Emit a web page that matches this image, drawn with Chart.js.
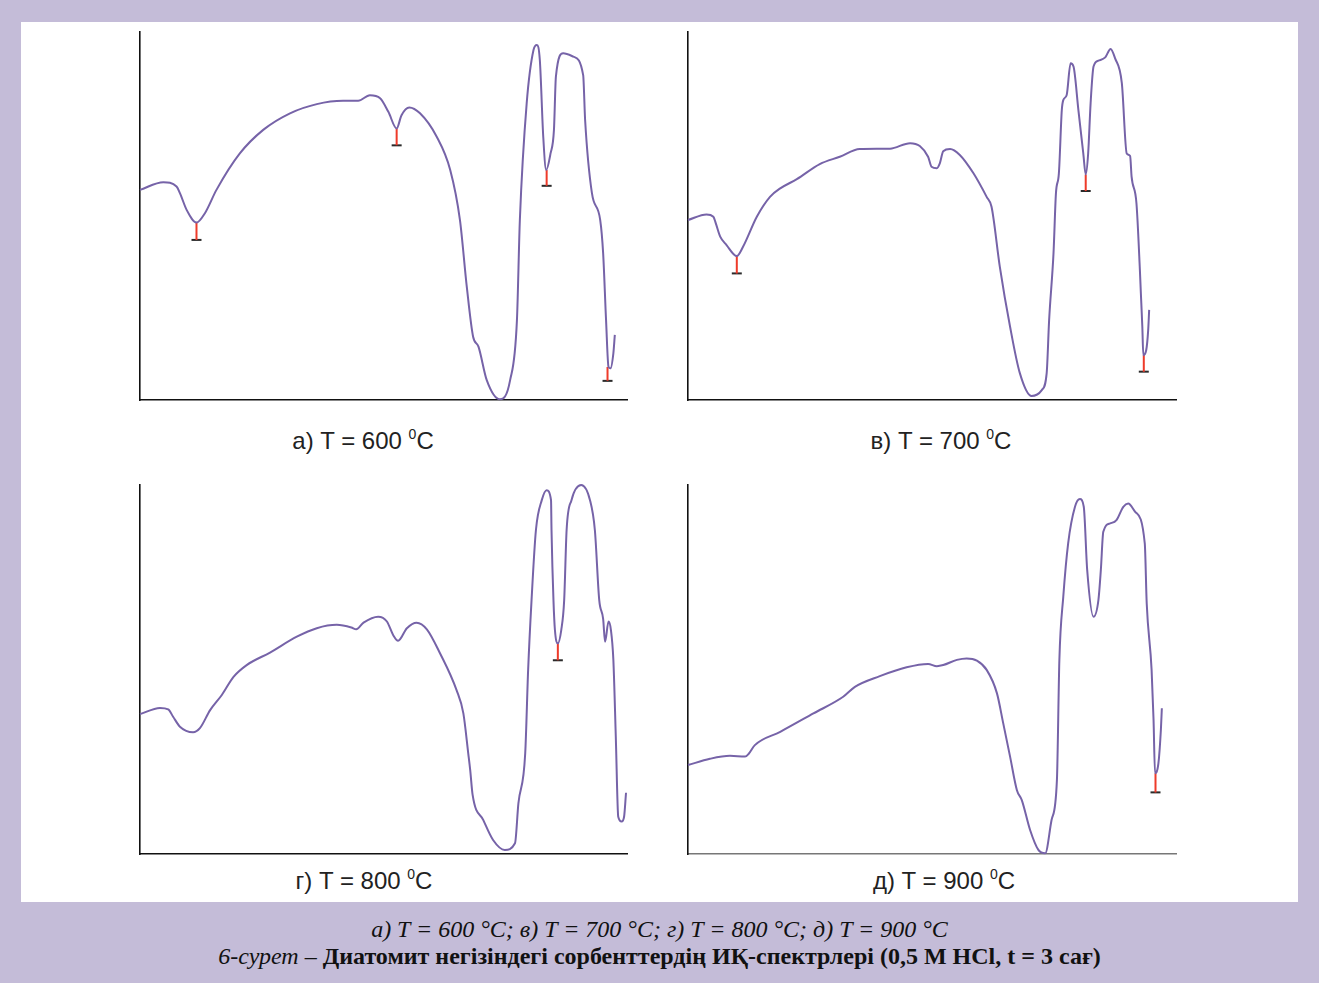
<!DOCTYPE html>
<html>
<head>
<meta charset="utf-8">
<script src="https://cdn.jsdelivr.net/npm/chart.js@4.4.1/dist/chart.umd.min.js"></script>
<style>
  html, body { margin: 0; padding: 0; }
  body { width: 1319px; height: 983px; background: #c4bcd8; position: relative; overflow: hidden; }
  #sheet { position: absolute; left: 21px; top: 22px; width: 1277px; height: 880px; background: #fff; }
  .plot { position: absolute; }
  .label { position: absolute; width: 300px; text-align: center; font-family: 'Liberation Sans', Arial, sans-serif; font-size: 24px; line-height: 28px; color: #222; }
  .label sup { font-size: 14px; vertical-align: 10px; line-height: 0; }
  .caption { position: absolute; left: 0; width: 1319px; text-align: center; font-family: 'Liberation Serif', 'Times New Roman', serif; font-size: 24px; line-height: 27px; color: #111; }
</style>
</head>
<body>
<div id="sheet"></div>
<div class="plot" id="boxA"><canvas id="specA"></canvas></div>
<div class="plot" id="boxB"><canvas id="specB"></canvas></div>
<div class="plot" id="boxC"><canvas id="specC"></canvas></div>
<div class="plot" id="boxD"><canvas id="specD"></canvas></div>
<div class="caption" style="top:916px"><i>а) T = 600 °C; в) T = 700 °C; г) T = 800 °C; д) T = 900 °C</i></div>
<div class="caption" style="top:943px"><i>6-сурет</i> – <b>Диатомит негізіндегі сорбенттердің ИҚ-спектрлері (0,5 M HCl, t = 3 сағ)</b></div>
<script>
// IR spectra on a relative 0–100 frame: position along the axis / transmittance
// а) 600 °C
const posA = [0, 4.8, 7.5, 8.2, 9.6, 11.6, 13.3, 15.7, 20.5, 25.3, 30.8, 36.3, 41.7, 44.8, 47.2, 49.3, 51.0, 52.7, 53.7, 55.3, 57.5, 60.9, 63.7, 65.7, 67.1, 68.4, 69.5, 71.2, 73.9, 76.0, 77.4, 78.0, 79.4, 80.8, 81.5, 82.1, 82.8, 83.4, 84.3, 85.0, 85.4, 86.9, 89.0, 91.0, 91.4, 92.8, 94.5, 95.1, 95.7, 96.2, 96.6, 97.2, 97.5];
const valA = [57.1, 59.2, 58.0, 56.2, 51.6, 48.2, 50.7, 57.1, 67.0, 73.4, 77.9, 80.4, 81.3, 81.3, 82.8, 82.0, 78.3, 73.8, 77.4, 79.5, 77.9, 71.6, 62.5, 48.9, 30.8, 17.2, 14.5, 5.4, 0.2, 5.4, 21.7, 48.9, 80.6, 95.1, 96.5, 92.4, 71.6, 62.5, 67.0, 73.4, 87.9, 94.2, 93.3, 88.3, 76.1, 56.2, 48.9, 39.9, 21.7, 9.0, 8.6, 12.7, 17.7];
const bandPosA = [11.6, 52.7, 83.5, 96.0];
const bandMinA = [48.2, 73.8, 62.5, 9.0];
const bandCapA = [43.5, 69.2, 58.2, 5.2];

// в) 700 °C
const posB = [0, 3.8, 5.2, 5.7, 6.6, 7.9, 10.0, 11.3, 14.1, 16.8, 18.9, 22.3, 27.0, 31.1, 35.2, 41.4, 45.5, 47.5, 49.2, 49.9, 51.0, 51.6, 52.3, 53.7, 55.7, 58.5, 61.2, 62.2, 63.9, 66.0, 68.0, 70.4, 72.5, 73.5, 74.0, 74.9, 75.4, 76.0, 76.6, 76.9, 77.6, 78.4, 79.0, 80.0, 81.0, 81.5, 82.0, 82.5, 83.1, 84.1, 85.5, 86.6, 87.5, 88.9, 89.9, 90.6, 90.9, 91.9, 92.6, 92.8, 93.1, 93.3, 93.9, 94.3, 94.5];
const valB = [48.9, 50.4, 49.8, 48.0, 44.4, 42.1, 39.1, 41.7, 49.8, 55.2, 57.5, 60.0, 64.1, 66.1, 68.2, 68.3, 69.8, 69.0, 66.1, 63.4, 63.0, 64.3, 67.6, 68.2, 66.6, 61.6, 55.2, 52.5, 36.2, 19.9, 7.3, 1.1, 2.7, 7.3, 21.7, 39.9, 56.2, 61.6, 78.8, 81.5, 82.9, 91.5, 90.6, 78.8, 67.0, 61.3, 67.0, 80.6, 90.6, 92.2, 93.1, 95.4, 92.9, 86.1, 67.0, 66.3, 60.7, 53.4, 35.3, 29.0, 19.9, 12.2, 13.6, 19.0, 24.5];
const bandPosB = [10.0, 81.5, 93.4];
const bandMinB = [39.1, 61.3, 12.2];
const bandCapB = [34.4, 56.8, 7.7];

// г) 800 °C
const posC = [0, 4.1, 5.8, 6.8, 8.2, 10.9, 12.3, 14.4, 16.8, 19.2, 21.9, 26.7, 32.2, 36.3, 40.4, 43.4, 44.4, 45.9, 48.9, 50.7, 52.0, 53.0, 54.8, 56.8, 58.9, 61.6, 65.0, 66.4, 67.4, 67.8, 68.3, 70.5, 72.5, 74.9, 77.0, 77.7, 79.1, 79.7, 80.4, 81.3, 82.5, 83.5, 84.4, 84.5, 84.9, 85.2, 85.8, 86.5, 87.1, 87.6, 88.6, 90.6, 92.4, 93.4, 94.3, 95.1, 95.5, 96.2, 96.7, 97.2, 97.7, 98.2, 98.9, 99.4, 99.8];
const valC = [37.9, 39.6, 39.2, 37.2, 34.5, 33.0, 34.1, 39.0, 43.1, 48.0, 51.2, 54.6, 58.9, 61.2, 62.1, 61.4, 60.9, 62.7, 64.3, 63.0, 59.3, 57.8, 61.2, 62.7, 60.9, 54.4, 44.4, 38.1, 27.3, 22.8, 16.0, 9.2, 3.8, 1.1, 2.9, 13.7, 27.3, 49.9, 68.8, 87.8, 95.9, 98.6, 95.9, 87.8, 68.8, 60.7, 57.1, 60.7, 68.8, 87.8, 95.9, 100.0, 95.9, 87.8, 68.8, 63.7, 57.5, 63.0, 60.7, 52.6, 31.8, 10.1, 8.8, 10.1, 16.6];
const bandPosC = [85.8];
const bandMinC = [57.1];
const bandCapC = [52.5];

// д) 900 °C
const posD = [0, 4.5, 8.6, 11.7, 12.4, 13.7, 18.9, 25.7, 31.8, 34.2, 39.3, 44.8, 49.2, 51.0, 52.3, 55.1, 57.1, 59.2, 61.2, 63.3, 64.6, 66.0, 67.4, 68.4, 70.1, 71.8, 73.2, 74.5, 75.6, 76.1, 76.9, 77.9, 79.3, 80.3, 81.1, 81.8, 83.1, 84.1, 84.6, 85.1, 86.5, 87.8, 89.2, 90.2, 91.6, 93.6, 94.0, 95.0, 95.4, 95.7, 96.4, 96.9, 97.1];
const valD = [24.1, 25.8, 26.6, 26.4, 27.1, 29.5, 33.1, 38.1, 42.6, 45.3, 48.2, 50.6, 51.5, 50.9, 51.2, 52.6, 53.0, 52.4, 49.9, 43.6, 35.4, 26.4, 17.3, 14.6, 6.5, 1.1, 0.2, 9.2, 20.1, 52.6, 69.7, 84.2, 94.1, 96.2, 94.1, 77.0, 64.3, 68.8, 77.0, 87.3, 89.6, 90.5, 94.1, 95.0, 92.8, 84.2, 67.9, 49.9, 36.3, 21.9, 24.6, 33.6, 39.5];
const bandPosD = [95.8];
const bandMinD = [21.9];
const bandCapD = [16.7];

const panelLabels = ['а) T = 600', 'в) T = 700', 'г) T = 800', 'д) T = 900'];

const LINE = '#7663a8';
const STEM = '#ee3b2a';
const CAP  = '#2a2a2a';
const PAD  = 4;

// frame of every plot (axis corner and size) and its label centre on the page
const frames = [
  { box: 'boxA', canvas: 'specA', left: 140, top: 32,  w: 487, h: 368, xAxis: '#111', labelX: 363, labelY: 427 },
  { box: 'boxB', canvas: 'specB', left: 688, top: 32,  w: 488, h: 368, xAxis: '#111', labelX: 941, labelY: 427 },
  { box: 'boxC', canvas: 'specC', left: 140, top: 485, w: 487, h: 369, xAxis: '#111', labelX: 364, labelY: 867 },
  { box: 'boxD', canvas: 'specD', left: 688, top: 485, w: 488, h: 369, xAxis: '#777', labelX: 944, labelY: 867 },
];

const series = [
  [posA, valA, bandPosA, bandMinA, bandCapA],
  [posB, valB, bandPosB, bandMinB, bandCapB],
  [posC, valC, bandPosC, bandMinC, bandCapC],
  [posD, valD, bandPosD, bandMinD, bandCapD],
];

function axis(color) {
  return {
    type: 'linear', min: 0, max: 100,
    grid: { display: false, drawTicks: false },
    ticks: { display: false },
    border: { display: true, color: color, width: 1.6 },
  };
}

function spectrum(frame, xs, ys, bandX, bandMin, bandCap) {
  const curve = xs.map((x, i) => ({ x, y: ys[i] }));
  // red stem from the band minimum down to its cap, broken between bands
  const stems = [];
  bandX.forEach((x, i) => {
    stems.push({ x, y: bandMin[i] }, { x, y: bandCap[i] }, { x, y: null });
  });
  const caps = bandX.map((x, i) => ({ x, y: bandCap[i] }));

  return new Chart(document.getElementById(frame.canvas), {
    type: 'line',
    data: {
      datasets: [
        {
          data: curve,
          borderColor: LINE,
          borderWidth: 2,
          pointRadius: 0,
          cubicInterpolationMode: 'monotone',
          clip: false,
        },
        {
          data: stems,
          borderColor: STEM,
          borderWidth: 2,
          pointRadius: 0,
          spanGaps: false,
          clip: false,
        },
        {
          data: caps,
          showLine: false,
          pointStyle: 'line',
          pointRadius: 5,
          pointHoverRadius: 5,
          pointBorderColor: CAP,
          pointBorderWidth: 2,
          clip: false,
        },
      ],
    },
    options: {
      responsive: true,
      maintainAspectRatio: false,
      animation: false,
      events: [],
      layout: { padding: PAD, autoPadding: false },
      plugins: {
        legend: { display: false },
        tooltip: { enabled: false },
      },
      scales: {
        x: axis(frame.xAxis),
        y: axis('#111'),
      },
    },
  });
}

frames.forEach((f, i) => {
  const box = document.getElementById(f.box);
  box.style.left = (f.left - PAD) + 'px';
  box.style.top = (f.top - PAD) + 'px';
  box.style.width = (f.w + 2 * PAD) + 'px';
  box.style.height = (f.h + 2 * PAD) + 'px';

  const label = document.createElement('div');
  label.className = 'label';
  label.innerHTML = panelLabels[i] + ' <sup>0</sup>C';
  label.style.left = (f.labelX - 150) + 'px';
  label.style.top = f.labelY + 'px';
  document.body.appendChild(label);

  spectrum(f, ...series[i]);
});
</script>
</body>
</html>
